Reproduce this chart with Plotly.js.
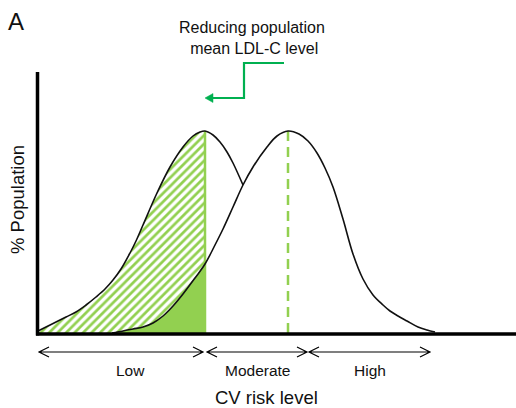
<!DOCTYPE html>
<html>
<head>
<meta charset="utf-8">
<script src="https://cdn.plot.ly/plotly-3.0.1.min.js"></script>
<style>html,body{margin:0;padding:0;background:#fff;}#chart{width:516px;height:408px;}</style>
</head>
<body>
<div id="chart"></div>
<script>
// Shifted (reduced LDL-C) population distribution, drawn up to where it meets the original curve
const leftX = [0, 8, 18, 28, 38, 48, 58, 67, 75, 83, 92, 98, 105, 119, 132, 145, 155, 162, 167, 175, 182, 189, 195, 205];
const leftY = [2, 6, 11, 16, 21, 28, 36, 44, 53, 64, 80, 92, 108, 140, 166, 186, 197, 201, 202, 198, 191, 181, 170, 148];
// Original population distribution
const rightX = [74, 85, 95, 105, 115, 125, 135, 145, 157, 167, 177, 185, 195, 205, 215, 229, 239, 250, 261, 270, 279, 287, 295, 305, 315, 325, 335, 345, 352, 360, 369, 380, 389, 397];
const rightY = [0, 2, 4, 6, 10, 17, 27, 39, 55, 69, 88, 104, 126, 148, 166, 186, 197, 202, 199, 192, 180, 165, 146, 114, 79, 54, 38, 28, 22, 17, 12, 6, 3, 1];
// Means of both distributions
const reducedMean = 167;
const originalMean = 250;
const peakHeight = 202;
// CV risk categories
const riskLabels = ['Low', 'Moderate', 'High'];
const riskStart = [1, 169, 271];
const riskEnd = [165, 269, 392];

const FONT = 'Liberation Sans, Arial, Helvetica, sans-serif';
const GREEN = '#92d050';
const DARKGREEN = '#00b050';

const cut = leftX.indexOf(reducedMean);
const cutR = rightX.indexOf(reducedMean);
const SPL = {shape: 'spline', smoothing: 1};

const traces = [
  { // hatched area under shifted curve, left of its mean
    x: leftX.slice(0, cut + 1), y: leftY.slice(0, cut + 1),
    type: 'scatter', mode: 'lines', line: Object.assign({width: 0}, SPL),
    fill: 'tozeroy', fillcolor: 'white',
    fillpattern: {shape: '/', fgcolor: GREEN, bgcolor: 'white', size: 6, solidity: 0.45},
    hoverinfo: 'skip'
  },
  { // solid area under original curve, left of reduced mean
    x: rightX.slice(0, cutR + 1), y: rightY.slice(0, cutR + 1),
    type: 'scatter', mode: 'lines', line: Object.assign({width: 0}, SPL),
    fill: 'tozeroy', fillcolor: GREEN, hoverinfo: 'skip'
  },
  { // reduced mean line
    x: [reducedMean, reducedMean], y: [0, peakHeight],
    type: 'scatter', mode: 'lines', line: {color: GREEN, width: 2.5}, hoverinfo: 'skip'
  },
  { // original mean dashed line
    x: [originalMean, originalMean], y: [0, peakHeight],
    type: 'scatter', mode: 'lines', line: {color: GREEN, width: 2.5, dash: '10px,6px'}, hoverinfo: 'skip'
  },
  { x: leftX, y: leftY, type: 'scatter', mode: 'lines',
    line: Object.assign({color: '#111', width: 1.6}, SPL), hoverinfo: 'skip' },
  { x: rightX, y: rightY, type: 'scatter', mode: 'lines',
    line: Object.assign({color: '#111', width: 1.6}, SPL), hoverinfo: 'skip' }
];

const shapes = [
  {type: 'line', x0: -0.5, x1: -0.5, y0: -2.5, y1: 261, line: {color: '#000', width: 3.5}},
  {type: 'line', x0: -2, x1: 478, y0: -1, y1: -1, line: {color: '#000', width: 3.5}},
  // green step arrow
  {type: 'path', path: 'M 246,270 L 206,270 L 206,235 L 173,235', line: {color: DARKGREEN, width: 2.2}},
  {type: 'path', path: 'M 167,235 L 175,239.5 L 175,230.5 Z', line: {color: DARKGREEN, width: 0.5}, fillcolor: DARKGREEN}
];

const annotations = [];
const ya = -19;
riskLabels.forEach((lab, i) => {
  const a = riskStart[i], b = riskEnd[i];
  shapes.push({type: 'path',
    path: `M ${a},${ya} L ${b},${ya} M ${a+10},${ya+5} L ${a},${ya} L ${a+10},${ya-5} M ${b-10},${ya+5} L ${b},${ya} L ${b-10},${ya-5}`,
    line: {color: '#000', width: 1.2}});
  annotations.push({x: (a + b) / 2, y: -37, text: lab, showarrow: false, xshift: i === 0 ? 9 : 0,
    font: {family: FONT, size: 15.5, color: '#111'}, xanchor: 'center', yanchor: 'middle'});
});
annotations.push(
  {x: 228, y: -64, text: 'CV risk level', showarrow: false, font: {family: FONT, size: 18.5, color: '#111'}, xanchor: 'center', yanchor: 'middle'},
  {x: -21, y: 133, text: '% Population', textangle: -90, showarrow: false, font: {family: FONT, size: 18.5, color: '#111'}, xanchor: 'center', yanchor: 'middle'},
  {x: -22, y: 312, text: 'A', showarrow: false, font: {family: FONT, size: 24, color: '#111'}, xanchor: 'center', yanchor: 'middle'},
  {x: 214, y: 295, text: 'Reducing population<br> mean LDL-C level', showarrow: false, font: {family: FONT, size: 16, color: '#111'}, xanchor: 'center', yanchor: 'middle', align: 'center'}
);

const layout = {
  width: 516, height: 408,
  margin: {l: 0, r: 0, t: 0, b: 0, pad: 0},
  paper_bgcolor: 'white', plot_bgcolor: 'white',
  showlegend: false,
  xaxis: {range: [-38, 478], visible: false, fixedrange: true},
  yaxis: {range: [-75, 333], visible: false, fixedrange: true},
  shapes: shapes, annotations: annotations
};

Plotly.newPlot('chart', traces, layout, {staticPlot: true, displayModeBar: false});
</script>
</body>
</html>
